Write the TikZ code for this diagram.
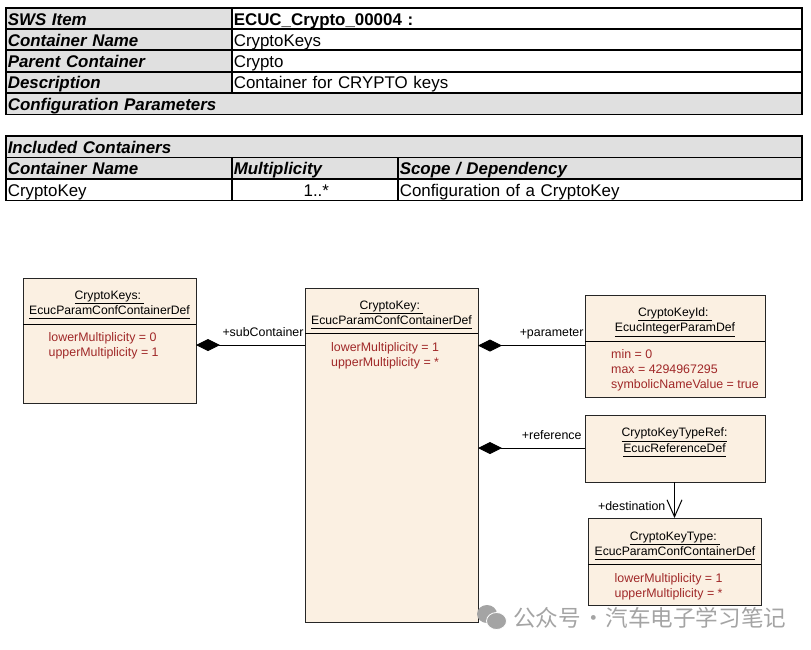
\documentclass[tikz,border=0pt]{standalone}
\usepackage{fontspec}
\setmainfont{Liberation Sans}
\newfontfamily\cjkfont{Noto Sans CJK SC}
\usetikzlibrary{arrows.meta}
\definecolor{tablegray}{HTML}{E0E0E0}
\definecolor{classfill}{HTML}{FBF0E2}
\definecolor{attrred}{HTML}{A02828}
\definecolor{marktext}{HTML}{A4A4A4}
\newcommand{\ultitle}[1]{\underline{#1\vphantom{y}}}
\tikzset{
    cell/.style={draw=black, line width=1.6pt, anchor=north west, inner sep=0pt, inner xsep=2pt, outer sep=0pt, align=left,
        minimum height=21.4pt, text height=15.5pt, text depth=2.5pt, font=\fontsize{16.9}{19}\selectfont},
    headcell/.style={cell, fill=tablegray, font=\fontsize{16.9}{19}\selectfont\bfseries\itshape},
    classbox/.style={draw=black!85, fill=classfill, line width=1pt, inner sep=0pt, outer sep=0pt, anchor=north west},
    classtitle/.style={align=center, inner sep=0pt, font=\fontsize{12.2}{15.5}\selectfont},
    classattr/.style={align=left, anchor=north west, inner sep=0pt, text=attrred, font=\fontsize{12.4}{15.3}\selectfont},
    rolelabel/.style={inner sep=0pt, font=\fontsize{12.4}{14}\selectfont},
    composition/.style={black, line width=1pt, {Diamond[length=24pt, width=12pt]}-},
    navigable/.style={black, line width=1pt, -{Straight Barb[length=17pt, width=15pt, line width=1pt]}},
}

\begin{document}
\begin{tikzpicture}[x=1pt, y=-1pt]
    \useasboundingbox (0,0) rectangle (811,649);

    % upper table
    \foreach \y/\name/\head/\val in {7.8/item/SWS Item/{\textbf{ECUC\_Crypto\_00004 :}},
            28.9/name/Container Name/CryptoKeys,
            50.2/parent/Parent Container/Crypto,
            71.7/descr/Description/Container for CRYPTO keys} {
        \node[headcell, text width=222pt] (\name head) at (5.8,\y) {\head};
        \node[cell, text width=566pt] (\name val) at (231.8,\y) {\val};
    }
    \node[headcell, text width=792pt] (params) at (5.8,93) {Configuration Parameters};

    % lower table
    \node[headcell, text width=792pt] (included) at (5.8,136) {Included Containers};
    \node[headcell, text width=222pt] (contname) at (5.8,157.4) {Container Name};
    \node[headcell, text width=162pt] (multi) at (231.8,157.4) {Multiplicity};
    \node[headcell, text width=400pt] (scope) at (397.8,157.4) {Scope / Dependency};
    \node[cell, text width=222pt] (keyname) at (5.8,179) {CryptoKey};
    \node[cell, text width=162pt, align=center] (keymulti) at (231.8,179) {\hspace*{3pt}1..*};
    \node[cell, text width=400pt] (keyscope) at (397.8,179) {Configuration of a CryptoKey};

    % classes
    \node[classbox, minimum width=173pt, minimum height=125pt] (keys) at (23,278) {};
    \node[classtitle] (keystitle) at (109.5,305) {\ultitle{CryptoKeys:\ }\\\ultitle{EcucParamConfContainerDef}};
    \draw[black, line width=1pt] (keys.west |- 0,324) -- (keys.east |- 0,324);
    \node[classattr] (keysattr) at (48.5,332) {lowerMultiplicity = 0\\upperMultiplicity = 1};

    \node[classbox, minimum width=173pt, minimum height=334pt] (key) at (305,288) {};
    \node[classtitle] (keytitle) at (391.5,315) {\ultitle{CryptoKey:\ }\\\ultitle{EcucParamConfContainerDef}};
    \draw[black, line width=1pt] (key.west |- 0,333.5) -- (key.east |- 0,333.5);
    \node[classattr] (keyattr) at (331,342) {lowerMultiplicity = 1\\upperMultiplicity = *};

    \node[classbox, minimum width=180pt, minimum height=102pt] (keyid) at (585,295) {};
    \node[classtitle] (keyidtitle) at (675,322) {\ultitle{CryptoKeyId:\ }\\\ultitle{EcucIntegerParamDef}};
    \draw[black, line width=1pt] (keyid.west |- 0,341) -- (keyid.east |- 0,341);
    \node[classattr] (keyidattr) at (611,349) {min = 0\\max = 4294967295\\symbolicNameValue = true};

    \node[classbox, minimum width=180pt, minimum height=67pt] (typeref) at (585,415) {};
    \node[classtitle] (typereftitle) at (674.5,442.5) {\ultitle{CryptoKeyTypeRef:}\\\ultitle{EcucReferenceDef}};

    \node[classbox, minimum width=173pt, minimum height=87pt] (keytype) at (588,518) {};
    \node[classtitle] (keytypetitle) at (675,546) {\ultitle{CryptoKeyType:\ }\\\ultitle{EcucParamConfContainerDef}};
    \draw[black, line width=1pt] (keytype.west |- 0,564) -- (keytype.east |- 0,564);
    \node[classattr] (keytypeattr) at (614.5,573) {lowerMultiplicity = 1\\upperMultiplicity = *};

    % connectors
    \coordinate (subjoin) at (0,345);
    \coordinate (parjoin) at (0,345.5);
    \coordinate (refjoin) at (0,448);
    \coordinate (destjoin) at (674.5,0);
    \draw[composition] (keys.east |- subjoin) -- node[rolelabel, pos=1, anchor=south east, xshift=-1pt, yshift=8pt] (subcontainer) {+subContainer} (key.west |- subjoin);
    \draw[composition] (key.east |- parjoin) -- node[rolelabel, pos=1, anchor=south east, xshift=-1pt, yshift=6pt] (parameter) {+parameter} (keyid.west |- parjoin);
    \draw[composition] (key.east |- refjoin) -- node[rolelabel, pos=1, anchor=south east, xshift=-3pt, yshift=8pt] (reference) {+reference} (typeref.west |- refjoin);
    \draw[navigable] (typeref.south -| destjoin) -- (keytype.north -| destjoin);
    \node[rolelabel, anchor=east] (destination) at (665.5,506) {+destination};

    % watermark
    \fill[marktext] (487,614) ellipse (10pt and 9pt);
    \fill[marktext, draw=white, line width=0.8pt] (496.5,621) ellipse (10pt and 8.5pt);
    \node[inner sep=0pt, text=marktext, font=\cjkfont\fontsize{22.6}{24}\selectfont, anchor=west] (mark) at (513,618) {公众号\hspace{1pt}·\hspace{1pt}汽车电子学习笔记};
\end{tikzpicture}
\end{document}
